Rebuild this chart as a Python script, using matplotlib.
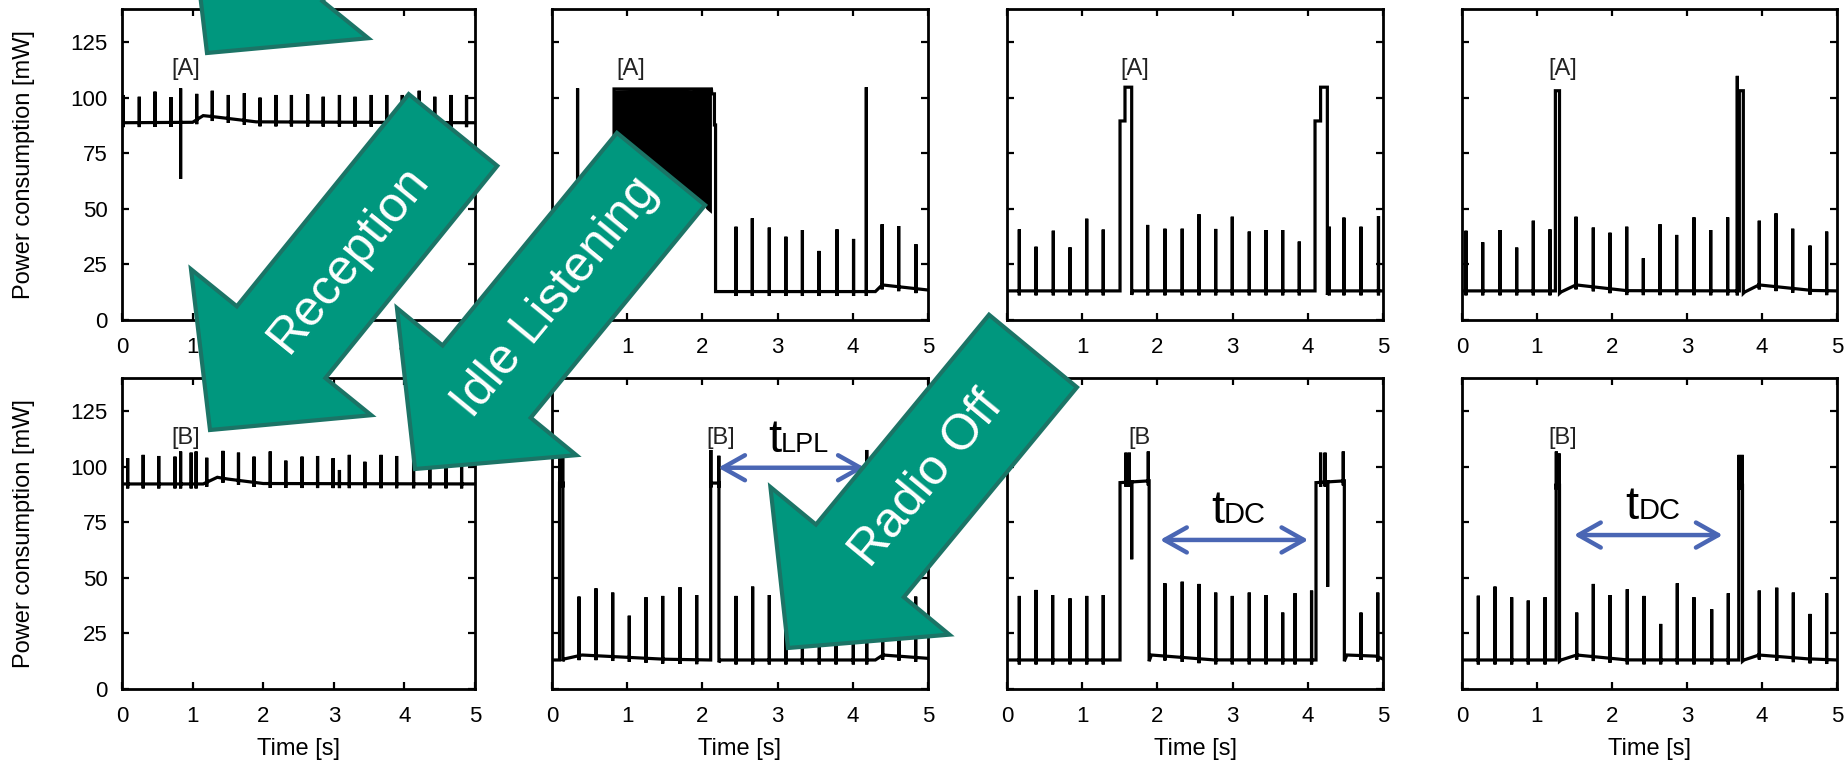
import numpy as np
import matplotlib
matplotlib.use('Agg')
import matplotlib.pyplot as plt
from matplotlib.patches import Polygon

plt.rcParams['font.family'] = ['Liberation Sans', 'DejaVu Sans']

# power traces, time in s, power in mW; top row = receiver [A], bottom row = sender [B]
# base_* = slow level (with the radio-on blocks), spk_* = short spikes (time, peak)

# column 1: always on
p1a_base_t = [0.0, 1.0, 1.15, 1.3, 1.9, 5.0]
p1a_base_v = [88.8, 89.0, 92.0, 91.5, 89.2, 88.8]
p1a_spk_t = [0.015, 0.245, 0.467, 0.694, 0.83, 1.058, 1.279, 1.506, 1.733, 1.955, 2.18, 2.40,
             2.63, 2.85, 3.08, 3.30, 3.53, 3.75, 3.97, 4.21, 4.43, 4.66, 4.88]
p1a_spk_v = [101.3, 100.5, 102.8, 100.3, 104.3, 101.8, 103.2, 101.3, 102.1, 100.1, 101.3, 101.3,
             101.6, 100.5, 101.3, 100.5, 101.3, 101.3, 101.3, 103.2, 100.5, 101.3, 101.3]
p1a_low_t = [0.83]
p1a_low_v = [63.5]

p1b_base_t = [0.0, 1.15, 1.35, 1.5, 2.0, 5.0]
p1b_base_v = [92.3, 92.3, 95.3, 94.5, 92.5, 92.3]
p1b_spk_t = [0.08, 0.30, 0.52, 0.75, 0.83, 0.98, 1.05, 1.20, 1.43, 1.65, 1.87, 2.10, 2.32,
             2.55, 2.77, 2.99, 3.08, 3.22, 3.44, 3.67, 3.89, 4.13, 4.36, 4.59, 4.81]
p1b_spk_v = [103.9, 105.4, 104.9, 104.6, 106.9, 106.4, 106.9, 104.1, 107.2, 106.4, 104.6, 106.9, 102.8,
             104.6, 104.9, 103.9, 98.6, 105.4, 102.3, 105.4, 104.9, 104.6, 104.6, 104.6, 103.9]

# column 2: LPL
p2a_base_t = [0.0, 0.825, 0.825, 2.12, 2.125, 2.16, 2.16, 2.175, 2.175, 4.30, 4.39, 5.0]
p2a_base_v = [13.0, 13.0, 104.0, 104.0, 101.8, 101.8, 87.8, 87.8, 12.8, 12.8, 15.8, 13.5]
p2a_spk_t = [0.34, 2.447, 2.664, 2.89, 3.11, 3.33, 3.55, 3.79, 4.01, 4.18, 4.39, 4.61, 4.84]
p2a_spk_v = [104.3, 42.0, 45.8, 41.6, 37.5, 40.5, 31.1, 40.8, 36.5, 104.8, 43.1, 42.3, 34.1]
# dense preamble burst (envelope)
burst_t = [0.825, 1.2, 1.6, 1.85, 1.95, 2.05, 2.12]
burst_hi = [103.6, 103.9, 104.0, 103.7, 104.0, 104.2, 104.8]
burst_lo = [55.0, 55.0, 56.0, 57.0, 55.0, 50.0, 48.0]

p2b_base_t = [0.0, 0.10, 0.10, 0.145, 0.145, 0.16, 0.40, 1.5, 2.11, 2.11, 2.22, 2.22, 2.24, 4.30, 4.40, 5.0]
p2b_base_v = [13.06, 13.06, 92.7, 92.7, 12.5, 13.5, 15.3, 13.4, 13.06, 92.7, 92.7, 12.0, 13.06, 13.06, 15.3, 13.8]
p2b_spk_t = [0.102, 0.142, 0.359, 0.585, 0.807, 1.028, 1.25, 1.472, 1.702, 1.924, 2.112, 2.218,
             2.447, 2.668, 2.89, 3.11, 3.33, 3.555, 3.777, 4.007, 4.185, 4.397, 4.614, 4.836]
p2b_spk_v = [107.6, 105.0, 41.6, 45.3, 43.4, 33.0, 41.3, 41.9, 45.8, 42.3, 107.6, 105.0,
             41.9, 46.1, 42.3, 40.0, 41.0, 39.0, 42.0, 40.0, 107.6, 42.0, 40.5, 41.6]

# column 3: duty cycling, long blocks
p3a_base_t = [0.0, 1.503, 1.503, 1.569, 1.569, 1.658, 1.658, 1.67, 4.096, 4.096, 4.17, 4.17, 4.26, 4.26, 4.27, 5.0]
p3a_base_v = [13.1, 13.1, 89.6, 89.6, 104.8, 104.8, 11.3, 13.1, 13.1, 89.6, 89.6, 104.8, 104.8, 11.3, 13.1, 13.1]
p3a_spk_t = [0.164, 0.386, 0.616, 0.838, 1.06, 1.28, 1.87, 2.10, 2.33, 2.553, 2.775, 2.996, 3.222,
             3.444, 3.666, 3.887, 4.286, 4.48, 4.707, 4.94]
p3a_spk_v = [40.8, 33.0, 40.2, 32.7, 45.6, 40.7, 42.8, 41.1, 41.1, 47.6, 41.0, 46.5, 39.8,
             40.5, 40.5, 35.3, 42.0, 46.1, 42.0, 46.8]

p3b_base_t = [0.0, 1.503, 1.503, 1.89, 1.89, 1.92, 2.75, 4.109, 4.109, 4.486, 4.486, 4.52, 4.9, 5.0]
p3b_base_v = [13.06, 13.06, 92.9, 93.7, 12.5, 15.3, 13.1, 13.06, 92.9, 93.7, 12.5, 15.3, 14.8, 13.5]
p3b_spk_t = [0.164, 0.386, 0.607, 0.838, 1.06, 1.28, 1.582, 1.627, 1.658, 1.879, 2.10, 2.33, 2.553,
             2.775, 2.996, 3.222, 3.444, 3.666, 3.83, 4.05, 4.17, 4.229, 4.264, 4.472, 4.707, 4.93]
p3b_spk_v = [41.9, 44.6, 42.3, 40.8, 41.9, 42.3, 106.4, 106.4, 58.4, 106.9, 47.6, 48.3, 47.3,
             43.4, 41.9, 43.4, 42.3, 34.4, 43.1, 44.3, 106.4, 106.4, 46.0, 106.9, 34.4, 43.4]

# column 4: duty cycling, short blocks
p4a_base_t = [0.0, 1.245, 1.245, 1.30, 1.30, 1.32, 1.52, 2.2, 3.698, 3.698, 3.751, 3.751, 3.77, 3.96, 4.67, 5.0]
p4a_base_v = [13.1, 13.1, 103.2, 103.2, 12.0, 12.6, 15.8, 13.2, 13.1, 103.2, 103.2, 12.0, 12.6, 15.8, 13.3, 13.1]
p4a_spk_t = [0.053, 0.276, 0.507, 0.729, 0.951, 1.173, 1.52, 1.751, 1.973, 2.196, 2.418, 2.64,
             2.862, 3.093, 3.316, 3.542, 3.671, 3.964, 4.187, 4.409, 4.64, 4.862]
p4a_spk_v = [40.2, 35.0, 40.5, 32.6, 44.7, 40.8, 46.5, 41.6, 39.3, 42.0, 27.8, 43.1,
             38.3, 46.2, 40.5, 46.2, 109.9, 44.7, 48.0, 41.1, 33.5, 39.8]

p4b_base_t = [0.0, 1.255, 1.255, 1.30, 1.30, 1.32, 1.53, 2.2, 3.69, 3.69, 3.74, 3.74, 3.76, 3.96, 4.6, 5.0]
p4b_base_v = [13.06, 13.06, 91.7, 91.7, 12.5, 13.06, 15.3, 13.1, 13.06, 91.7, 91.7, 12.5, 13.06, 15.3, 13.6, 13.06]
p4b_spk_t = [0.218, 0.44, 0.662, 0.884, 1.107, 1.258, 1.296, 1.529, 1.751, 1.973, 2.204, 2.427,
             2.649, 2.871, 3.093, 3.329, 3.551, 3.694, 3.736, 3.964, 4.196, 4.418, 4.64, 4.862]
p4b_spk_v = [42.0, 46.1, 41.3, 39.8, 41.3, 106.9, 106.0, 34.4, 47.3, 42.3, 44.9, 41.9,
             29.3, 47.6, 41.3, 35.9, 43.1, 105.4, 105.4, 44.3, 45.6, 43.4, 33.8, 43.1]

tag_text = ['[A]', '[A]', '[A]', '[A]', '[B]', '[B]', '[B', '[B]']
tag_t = [0.90, 1.05, 1.70, 1.34, 0.90, 2.24, 1.755, 1.34]

# interval markers in the bottom row
span_col = [1, 2, 3]
span_t0 = [2.21, 2.035, 1.493]
span_t1 = [4.16, 4.007, 3.476]
span_y = [99.6, 67.1, 69.3]
span_lx = [3.045, 2.886, 2.356]
span_ly = [106.8, 74.6, 76.5]
span_sub = ['LPL', 'DC', 'DC']


def build_trace(base_t, base_v, spk_t, spk_v, low_t=(), low_v=()):
    lows = dict(zip(low_t, low_v))
    xs, ys = [], []
    bi = 0
    for t, v in zip(spk_t, spk_v):
        while bi < len(base_t) and base_t[bi] < t:
            xs.append(base_t[bi]); ys.append(base_v[bi]); bi += 1
        b = float(np.interp(t, base_t, base_v))
        lo = lows.get(t, b - 2.0)
        xs += [t, t, t, t]
        ys += [b, v, lo, b]
    xs += list(base_t[bi:]); ys += list(base_v[bi:])
    return xs, ys


W, H = 1847, 761
col_left = [122, 552, 1007, 1462]
col_w = [353, 376, 376, 375]
row_top = [9, 378]
row_h = 311

fig = plt.figure(figsize=(W / 100, H / 100), dpi=100)

traces = [
    [(p1a_base_t, p1a_base_v, p1a_spk_t, p1a_spk_v, p1a_low_t, p1a_low_v),
     (p2a_base_t, p2a_base_v, p2a_spk_t, p2a_spk_v, (), ()),
     (p3a_base_t, p3a_base_v, p3a_spk_t, p3a_spk_v, (), ()),
     (p4a_base_t, p4a_base_v, p4a_spk_t, p4a_spk_v, (), ())],
    [(p1b_base_t, p1b_base_v, p1b_spk_t, p1b_spk_v, (), ()),
     (p2b_base_t, p2b_base_v, p2b_spk_t, p2b_spk_v, (), ()),
     (p3b_base_t, p3b_base_v, p3b_spk_t, p3b_spk_v, (), ()),
     (p4b_base_t, p4b_base_v, p4b_spk_t, p4b_spk_v, (), ())],
]

axes = [[None] * 4, [None] * 4]
for r in range(2):
    for c in range(4):
        ax = fig.add_axes([col_left[c] / W, 1 - (row_top[r] + row_h) / H, col_w[c] / W, row_h / H])
        axes[r][c] = ax
        x, y = build_trace(*traces[r][c])
        ax.plot(x, y, color='black', lw=2.3, solid_joinstyle='miter')
        if r == 0 and c == 1:
            ax.fill_between(burst_t, burst_lo, burst_hi, color='black', lw=0)
        ax.set_xlim(0, 5)
        ax.set_ylim(0, 140)
        ax.set_xticks(range(6))
        ax.set_yticks(range(0, 126, 25))
        ax.tick_params(direction='in', top=True, right=True, length=5, width=1.6, labelsize=16)
        ax.tick_params(axis='x', pad=12)
        ax.tick_params(axis='y', pad=10.5)
        for s in ax.spines.values():
            s.set_linewidth(2.0)
        if c > 0:
            ax.set_yticklabels([])
        else:
            ax.set_ylabel('Power consumption [mW]', fontsize=17)
            ax.yaxis.set_label_coords(-0.2465, 0.5)
        if r == 1:
            ax.set_xlabel('Time [s]', fontsize=17)
            ax.xaxis.set_label_coords(0.5, -0.212)
            ax.xaxis.label.set_verticalalignment('baseline')
        ax.text(tag_t[r * 4 + c], 110.5, tag_text[r * 4 + c], fontsize=17, color='#222222',
                ha='center', va='baseline')

blue = '#4a66b4'
for c, t0, t1, y, lx, ly, sub in zip(span_col, span_t0, span_t1, span_y, span_lx, span_ly, span_sub):
    ax = axes[1][c]
    ax.annotate('', xy=(t1, y), xytext=(t0, y),
                arrowprops=dict(arrowstyle='<->,head_length=0.8,head_width=0.45', color=blue,
                                lw=3.2, shrinkA=0, shrinkB=0, mutation_scale=20))
    ax.text(lx, ly, 't', fontsize=34, ha='right', va='baseline', color='black')
    ax.text(lx, ly, sub, fontsize=21 if sub == 'DC' else 19.5, ha='left', va='baseline', color='black')

# green state arrows drawn over the figure: (tail centre, tip) in pixels from the top-left
green_tail = [(450, -247), (453, 130), (661, 169), (1033, 351)]
green_tip = [(207, 53), (210, 430), (415, 469), (788, 648)]
green_text = [None, 'Reception', 'Idle Listening', 'Radio Off']
shaft_hw, head_hw, head_len = 57, 116, 113

for (tx, ty), (px, py), label in zip(green_tail, green_tip, green_text):
    d = np.array([px - tx, py - ty], float)
    u = d / np.hypot(*d)
    n = np.array([-u[1], u[0]])
    T = np.array([tx, ty], float)
    P = np.array([px, py], float)
    B = P - u * head_len
    pts = [T + n * shaft_hw, B + n * shaft_hw, B + n * head_hw, P,
           B - n * head_hw, B - n * shaft_hw, T - n * shaft_hw]
    pts = [(q[0] / W, 1 - q[1] / H) for q in pts]
    poly = Polygon(pts, closed=True, transform=fig.transFigure, facecolor='#00977e',
                   edgecolor='#1b7466', lw=3, joinstyle='miter', zorder=5)
    fig.add_artist(poly)
    if label:
        cx, cy = T + u * 166
        ang = np.degrees(np.arctan2(u[1], -u[0]))
        fig.text(cx / W, 1 - cy / H, label, color='white', fontsize=36, rotation=ang,
                 rotation_mode='anchor', ha='center', va='center', zorder=6)

fig.savefig('out.png', dpi=100, facecolor='white')
